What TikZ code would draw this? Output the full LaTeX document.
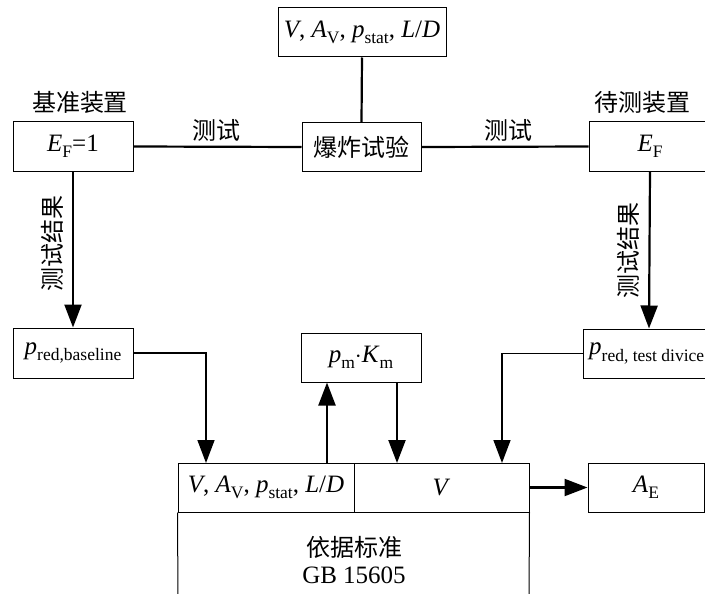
\documentclass[tikz,border=0pt]{standalone}
\usepackage{fontspec}
\setmainfont{Liberation Serif}
\newfontfamily\cjk{Noto Sans CJK SC}
\usetikzlibrary{arrows.meta}
\newcommand{\mysub}[1]{\raisebox{-0.25em}{\fontsize{17.5}{17.5}\selectfont #1}}
\begin{document}
\begin{tikzpicture}[x=1pt,y=-1pt,
  box/.style={draw,line width=1pt,inner sep=0pt,minimum height=49pt,font=\fontsize{25}{29}\selectfont},
  lbl/.style={inner sep=0pt,font=\fontsize{24}{28}\selectfont\cjk},
  thick conn/.style={line width=2.2pt},
  thin conn/.style={line width=1.5pt},
  tip/.style={-{Triangle[length=23pt,width=17pt]}}]
\useasboundingbox (0,0) rectangle (705,594);
\clip (0,0) rectangle (705,594);
% top
\node[box,minimum width=168pt] (params) at (362,32.5) {\textit{V}, \textit{A}\mysub{V}, \textit{p}\mysub{stat}, \textit{L}/\textit{D}};
\node[box,minimum width=119pt,font=\fontsize{24}{28}\selectfont\cjk] (test) at (361.5,147) {爆炸试验};
\node[box,minimum width=120pt] (ref) at (73,146.5) {\textit{E}\mysub{F}=1};
\node[box,minimum width=122pt] (dut) at (650,146.5) {\textit{E}\mysub{F}};
\node[lbl] (lblref) at (80,102) {基准装置};
\node[lbl] (lbldut) at (642,102) {待测装置};
\node[lbl] (lblt1) at (216,130) {测试};
\node[lbl] (lblt2) at (508,130) {测试};
% middle
\node[box,minimum width=120pt,minimum height=50pt] (base) at (73,353) {\textit{p}\mysub{red,baseline}};
\node[box,minimum width=132pt] (pt) at (649,353.5) {};
\node[inner sep=0pt,anchor=west,font=\fontsize{25}{29}\selectfont] (pttext) at (589,353.5) {\textit{p}\mysub{red, test divice}};
\node[box,minimum width=120pt] (pm) at (361,357.5) {\textit{p}\mysub{m}$\cdot$\textit{K}\mysub{m}};
\node[lbl,rotate=90] (res1) at (52,243) {测试结果};
\node[lbl,rotate=90] (res2) at (628,250) {测试结果};
% bottom
\node[box,minimum width=176pt] (cellL) at (266,487.5) {\textit{V}, \textit{A}\mysub{V}, \textit{p}\mysub{stat}, \textit{L}/\textit{D}};
\node[box,minimum width=175pt] (cellR) at (441.5,487.5) {\textit{V}};
\node[box,minimum width=116pt] (AE) at (646,487.5) {\textit{A}\mysub{E}};
\coordinate (bl) at (178,600);
\coordinate (br) at (529,600);
\draw[line width=1pt] (cellL.south west) -- (bl);
\draw[line width=1pt] (cellR.south east) -- (br);
\node[lbl,align=center,font=\fontsize{25}{27}\selectfont] (std) at (354,560) {{\cjk\fontsize{24}{27}\selectfont 依据标准}\\GB 15605};
% connectors
\draw[thick conn] (params.south) -- (test.north);
\draw[thick conn] (ref.east) -- (test.west);
\draw[thick conn] (test.east) -- (dut.west);
\draw[thick conn,tip] (ref.south) -- (base.north);
\draw[thick conn,tip] (dut.south) -- (pt.north);
\coordinate (inL) at (206,463);
\coordinate (inR) at (502,463);
\coordinate (outU) at (327,463);
\coordinate (inD) at (397,463);
\draw[thin conn,tip] (base.east) -| (inL);
\draw[thin conn,tip] (pt.west) -| (inR);
\draw[thick conn,tip] (outU) -- (outU |- pm.south);
\draw[thick conn,tip] (inD |- pm.south) -- (inD);
\draw[thick conn,tip] (cellR.east) -- (AE.west);
\end{tikzpicture}
\end{document}
